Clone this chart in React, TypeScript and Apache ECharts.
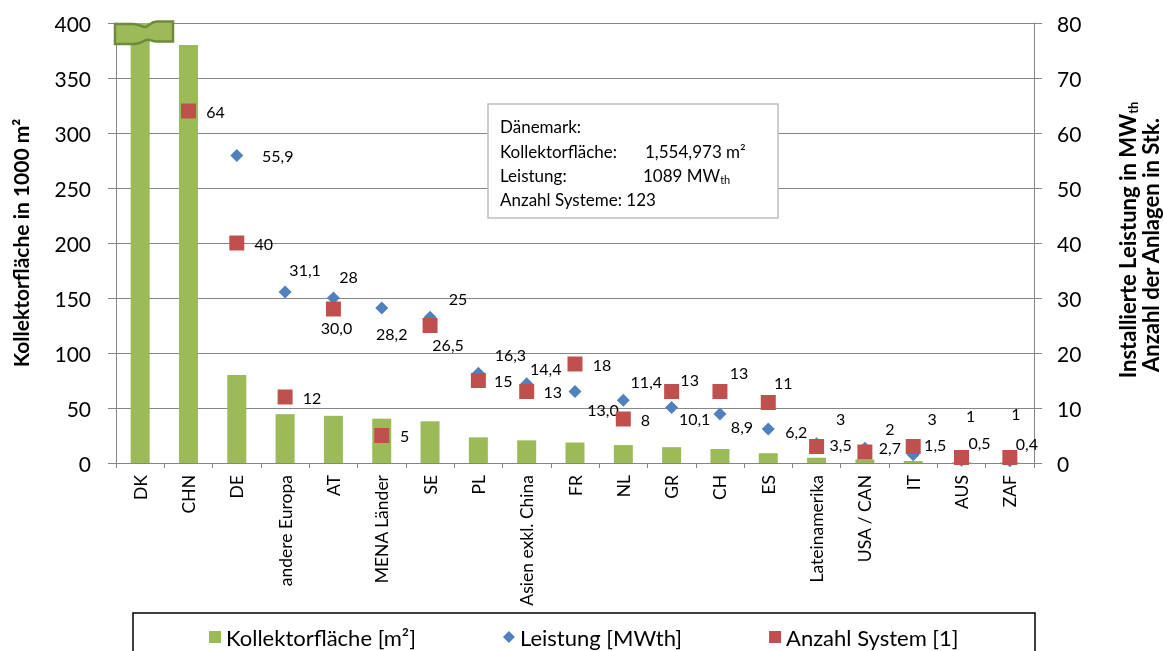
import React, { useEffect, useRef } from 'react';
import * as echarts from 'echarts';

const categories = ['DK', 'CHN', 'DE', 'andere Europa', 'AT', 'MENA Länder', 'SE', 'PL', 'Asien exkl. China', 'FR', 'NL', 'GR', 'CH', 'ES', 'Lateinamerika', 'USA / CAN', 'IT', 'AUS', 'ZAF'];
// Kollektorfläche in 1000 m²
const kollektorflaeche = [1555, 380, 80, 44.4, 42.9, 40.3, 37.9, 23.3, 20.6, 18.6, 16.3, 14.4, 12.7, 8.9, 4.8, 3.2, 1.8, 0.6, 0.5];
// Leistung in MWth
const leistung = [1089, null, 55.9, 31.1, 30.0, 28.2, 26.5, 16.3, 14.4, 13.0, 11.4, 10.1, 8.9, 6.2, 3.5, 2.7, 1.5, 0.5, 0.4];
// Anzahl Systeme
const anzahl = [123, 64, 40, 12, 28, 5, 25, 15, 13, 18, 8, 13, 13, 11, 3, 2, 3, 1, 1];

const leftAxis = { min: 0, max: 400, interval: 50 };
const rightAxis = { min: 0, max: 80, interval: 10 };

const legendNames = ['Kollektorfläche [m²]', 'Leistung [MWth]', 'Anzahl System [1]'];

// label offsets (style only), from marker centre
const leistungLabelOffsets = [[0, 0], [0, 0], [41, 0], [20, -22], [3, 29], [10, 26], [18, 27], [32, -19], [19, -15], [28, 18], [23, -19], [23, 11], [22, 12], [28, 3], [24, 1], [25, -1], [22, -10], [18, -18], [17, -17]];
const anzahlLabelOffsets = [[0, 0], [27, 0], [27, 0], [27, 0], [15, -33], [23, 0], [28, -27], [25, 0], [26, 0], [27, 0], [22, 0], [18, -12], [19, -19], [15, -20], [24, -28], [25, -24], [19, -28], [9, -42], [6, -44]];

const FONT = 'Lato, "Open Sans", sans-serif';
const GREEN = '#9BBB59';
const BLUE = '#4F81BD';
const RED = '#C0504D';
const GRID = '#868686';

const breakPath = 'M115,24 L133,24 C140,24 142,28 146,27 C150,25 151,21.5 157,21.5 L173,21.5 L173,41.5 L157,41.5 C151,41.5 150,38.5 146,40 C142,42 140,44 133,44 L115,44 Z';
echarts.graphic.registerShape('axisbreak', echarts.graphic.extendPath(breakPath, {}));

export default function App() {
  const ref = useRef<HTMLDivElement>(null);
  useEffect(() => {
    if (!ref.current) return;
    const chart = echarts.init(ref.current, null, { renderer: 'svg' });
    const fmtDec = (v: number) => v.toFixed(1).replace('.', ',');
    const boxText = (x: number, y: number, text: string) => ({
      type: 'text', z: 101, x, y,
      style: { text, fontSize: 17, fontFamily: FONT, fill: '#000', textVerticalAlign: 'middle' },
    });
    chart.setOption({
      animation: false,
      textStyle: { fontFamily: FONT },
      grid: { left: 116, right: 129, top: 23, bottom: 188 },
      legend: {
        left: 204,
        top: 621,
        itemWidth: 12,
        itemHeight: 12,
        itemGap: 87,
        textStyle: { fontSize: 22, color: '#000', fontFamily: FONT },
        data: [
          { name: legendNames[0], icon: 'rect' },
          { name: legendNames[1], icon: 'diamond' },
          { name: legendNames[2], icon: 'rect' },
        ],
      },
      xAxis: {
        type: 'category',
        data: categories,
        axisLine: { lineStyle: { color: GRID } },
        axisTick: { show: true, alignWithLabel: false, interval: 0, length: 5, lineStyle: { color: GRID } },
        axisLabel: { rotate: 90, interval: 0, fontSize: 17.5, color: '#000', margin: 12, fontFamily: FONT },
      },
      yAxis: [
        {
          type: 'value',
          min: leftAxis.min,
          max: leftAxis.max,
          interval: leftAxis.interval,
          axisLine: { show: true, lineStyle: { color: GRID } },
          axisTick: { show: true, length: 8, lineStyle: { color: GRID } },
          axisLabel: { fontSize: 21, color: '#000', margin: 25, fontFamily: FONT },
          splitLine: { show: true, lineStyle: { color: GRID, width: 1 } },
        },
        {
          type: 'value',
          min: rightAxis.min,
          max: rightAxis.max,
          interval: rightAxis.interval,
          position: 'right',
          axisLine: { show: true, lineStyle: { color: GRID } },
          axisTick: { show: true, length: 8, lineStyle: { color: GRID } },
          axisLabel: { fontSize: 21, color: '#000', margin: 23, fontFamily: FONT },
          splitLine: { show: false },
        },
      ],
      series: [
        {
          name: legendNames[0],
          type: 'bar',
          yAxisIndex: 0,
          barWidth: 19,
          clip: true,
          itemStyle: { color: GREEN },
          data: kollektorflaeche,
          z: 2,
        },
        {
          name: legendNames[1],
          type: 'scatter',
          yAxisIndex: 1,
          symbol: 'diamond',
          symbolSize: [13, 13],
          clip: true,
          itemStyle: { color: BLUE, opacity: 1 },
          data: leistung.map((v, i) => ({
            value: v == null ? '-' : v,
            label: {
              show: true,
              position: 'inside',
              offset: leistungLabelOffsets[i],
              formatter: (p: any) => fmtDec(p.value),
              fontSize: 16,
              color: '#000',
              fontFamily: FONT,
            },
          })),
          z: 3,
        },
        {
          name: legendNames[2],
          type: 'scatter',
          yAxisIndex: 1,
          symbol: 'rect',
          symbolSize: 15,
          clip: true,
          itemStyle: { color: RED, opacity: 1 },
          data: anzahl.map((v, i) => ({
            value: v,
            label: {
              show: true,
              position: 'inside',
              offset: anzahlLabelOffsets[i],
              formatter: (p: any) => String(p.value),
              fontSize: 16,
              color: '#000',
              fontFamily: FONT,
            },
          })),
          z: 4,
        },
      ],
      graphic: [
        {
          type: 'axisbreak',
          x: 0,
          y: 0,
          z: 100,
          style: { fill: GREEN, stroke: '#71893F', lineWidth: 2.5 },
        },
        {
          type: 'rect',
          z: 100,
          shape: { x: 488, y: 104, width: 290, height: 114 },
          style: { fill: '#fff', stroke: '#BFBFBF', lineWidth: 1.5 },
        },
        boxText(500, 126, 'Dänemark:'),
        boxText(500, 151, 'Kollektorfläche:'),
        boxText(645, 151, '1,554,973 m²'),
        boxText(500, 175, 'Leistung:'),
        {
          type: 'text', z: 101, x: 643, y: 175,
          style: {
            text: '{n|1089 MW}{s|th}',
            fontFamily: FONT, fill: '#000', textVerticalAlign: 'middle',
            rich: {
              n: { fontSize: 17, fontFamily: FONT, color: '#000' },
              s: { fontSize: 11, fontFamily: FONT, color: '#000', padding: [9, 0, 0, 0] },
            },
          },
        },
        boxText(500, 199, 'Anzahl Systeme: 123'),
        {
          type: 'text', z: 101, x: 20, y: 243, rotation: Math.PI / 2,
          style: { text: 'Kollektorfläche in 1000 m²', fontSize: 21, fontWeight: 'bold', fontFamily: FONT, fill: '#000', textAlign: 'center', textVerticalAlign: 'middle' },
        },
        {
          type: 'text', z: 101, x: 1127, y: 240, rotation: Math.PI / 2,
          style: {
            text: '{n|Installierte Leistung in MW}{s|th}',
            fontFamily: FONT, fill: '#000', textAlign: 'center', textVerticalAlign: 'middle',
            rich: {
              n: { fontSize: 22, fontWeight: 'bold', fontFamily: FONT, color: '#000' },
              s: { fontSize: 13, fontWeight: 'bold', fontFamily: FONT, color: '#000', padding: [11, 0, 0, 0] },
            },
          },
        },
        {
          type: 'text', z: 101, x: 1150, y: 245, rotation: Math.PI / 2,
          style: { text: 'Anzahl der Anlagen in Stk.', fontSize: 22, fontWeight: 'bold', fontFamily: FONT, fill: '#000', textAlign: 'center', textVerticalAlign: 'middle' },
        },
        {
          type: 'rect',
          z: 0,
          shape: { x: 133, y: 613, width: 902, height: 50 },
          style: { fill: 'none', stroke: '#000', lineWidth: 1.5 },
        },
      ],
    });
    return () => chart.dispose();
  }, []);
  return <div ref={ref} style={{ position: 'fixed', left: 0, top: 0, width: 1163, height: 651 }} />;
}
